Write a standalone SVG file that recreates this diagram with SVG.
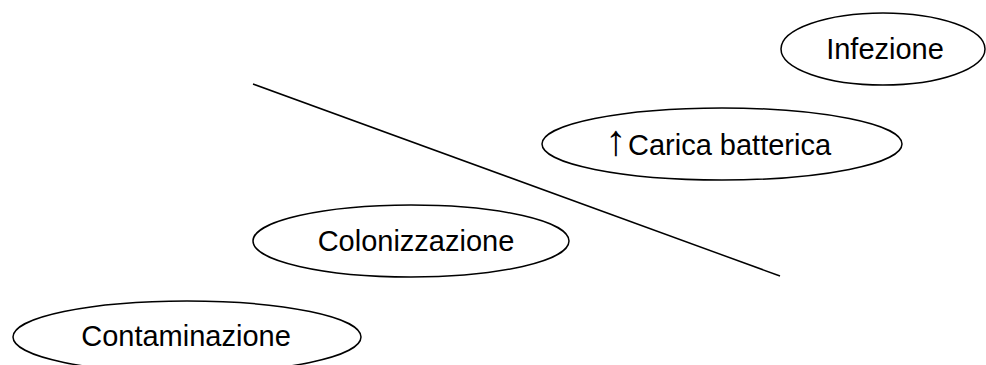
<svg xmlns="http://www.w3.org/2000/svg" width="986" height="365" viewBox="0 0 986 365">
<style>
.n{fill:#fff;stroke:#000;stroke-width:1.5}
.t{font-family:"Liberation Sans",Arial,sans-serif;font-size:29px;fill:#000;text-anchor:middle}
.s{text-anchor:start}
.c{stroke:#000;stroke-width:1.5;fill:none}
</style>
<rect width="986" height="365" fill="#fff"/>
<g id="connectors">
<line class="c" x1="253" y1="84" x2="780" y2="276"/>
</g>
<g id="infezione">
<ellipse class="n" cx="883" cy="49" rx="102" ry="36"/>
<text class="t" x="885" y="59">Infezione</text>
</g>
<g id="carica">
<ellipse class="n" cx="722" cy="144" rx="180" ry="36"/>
<text class="t s" y="155"><tspan x="605" font-size="43">↑</tspan><tspan x="628">Carica batterica</tspan></text>
</g>
<g id="colonizzazione">
<ellipse class="n" cx="411" cy="241" rx="158" ry="36"/>
<text class="t" x="416" y="251">Colonizzazione</text>
</g>
<g id="contaminazione">
<ellipse class="n" cx="187" cy="337" rx="174" ry="36"/>
<text class="t" x="186" y="346">Contaminazione</text>
</g>
</svg>
